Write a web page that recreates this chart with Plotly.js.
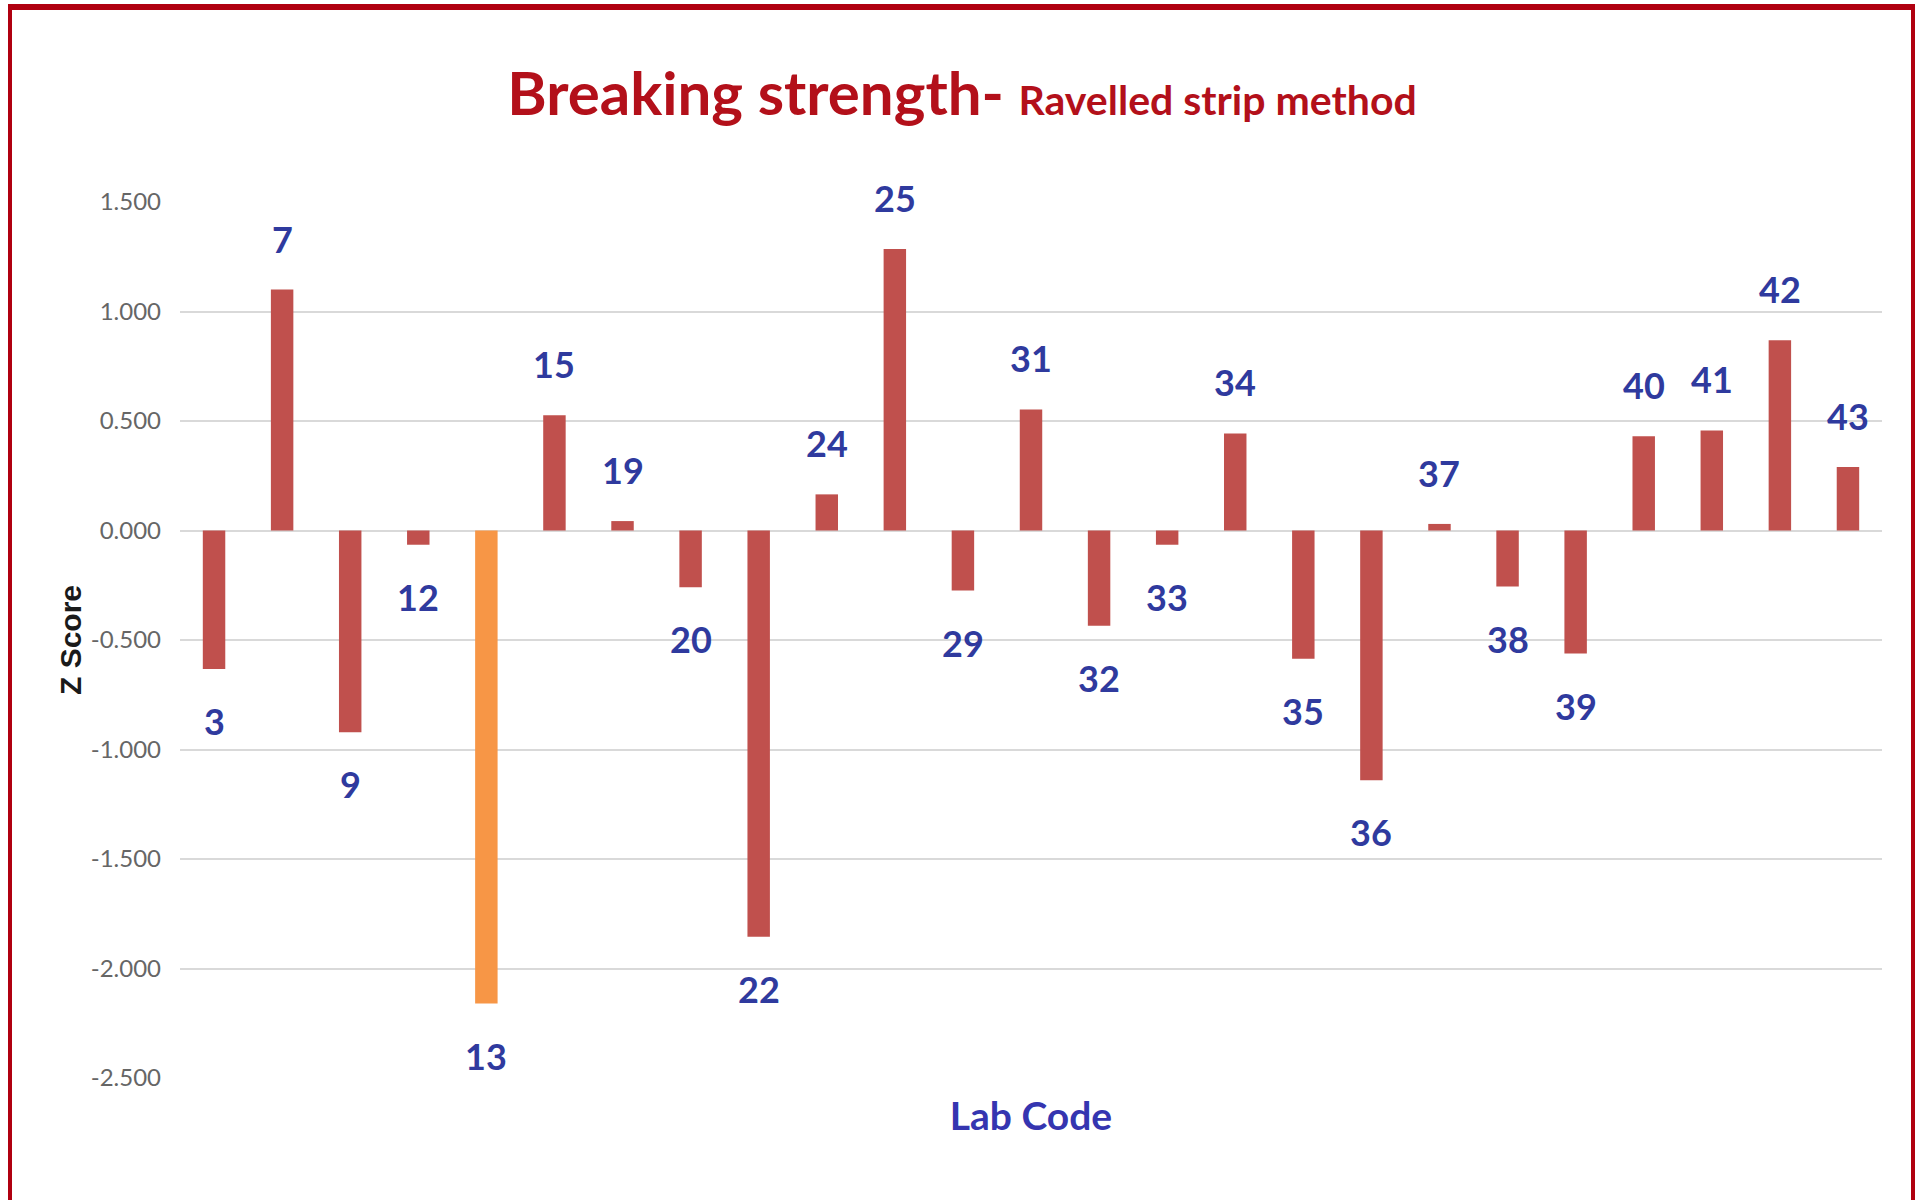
<!DOCTYPE html>
<html>
<head>
<meta charset="utf-8">
<script src="https://cdn.plot.ly/plotly-3.0.1.min.js"></script>
<style>
  html, body { margin: 0; padding: 0; background: #ffffff; }
  #wrap { position: relative; width: 1918px; height: 1200px; overflow: hidden; }
  #chart { position: absolute; left: 0; top: 0; width: 1918px; height: 1200px; }
  #frame { position: absolute; left: 8px; top: 4px; width: 1899px; height: 1192px;
           border: 4px solid #B00010; border-top-width: 6px; border-bottom: 2px solid #F2C4C8;
           pointer-events: none; }
</style>
</head>
<body>
<div id="wrap">
  <div id="chart"></div>
  <div id="frame"></div>
</div>
<script>
// ---- data ----
const labCodes = ['3','7','9','12','13','15','19','20','22','24','25','29','31','32','33','34','35','36','37','38','39','40','41','42','43'];
const zScores  = [-0.632, 1.100, -0.921, -0.065, -2.160, 0.526, 0.043, -0.259, -1.855, 0.165, 1.285, -0.274, 0.553, -0.435, -0.065, 0.443, -0.586, -1.140, 0.030, -0.256, -0.562, 0.430, 0.457, 0.869, 0.290];
const highlightedCodes = ['13'];
const yTickValues = [1.5, 1.0, 0.5, 0.0, -0.5, -1.0, -1.5, -2.0, -2.5];
const yTickLabels = ['1.500', '1.000', '0.500', '0.000', '-0.500', '-1.000', '-1.500', '-2.000', '-2.500'];
const chartTitleMain = 'Breaking strength-';
const chartTitleSub = 'Ravelled strip method';
const xAxisTitle = 'Lab Code';
const yAxisTitle = 'Z Score';

// ---- styles ----
const FONT = 'Lato, "Open Sans", sans-serif';
const barColor = '#C0504D';
const highlightColor = '#F79646';
const labelColor = '#2F3A9E';

const barColors = labCodes.map(c => highlightedCodes.includes(c) ? highlightColor : barColor);

const trace = {
  type: 'bar',
  x: labCodes,
  y: zScores,
  marker: { color: barColors, line: { width: 0 } },
  hoverinfo: 'x+y'
};

// data labels (lab codes) placed beyond the end of each bar; x given as category index
const annotations = labCodes.map((c, i) => ({
  x: i,
  y: zScores[i],
  xref: 'x',
  yref: 'y',
  text: '<b>' + c + '</b>',
  showarrow: false,
  xanchor: 'center',
  yanchor: 'middle',
  yshift: zScores[i] >= 0 ? 51 : -52,
  font: { family: FONT, size: 36, color: labelColor }
}));

const layout = {
  width: 1918,
  height: 1200,
  paper_bgcolor: '#ffffff',
  plot_bgcolor: '#ffffff',
  margin: { l: 180, r: 36, t: 202, b: 122, pad: 0 },
  showlegend: false,
  bargap: 0.67,
  title: {
    text: '<b>' + chartTitleMain + ' <span style="font-size:41px">' + chartTitleSub + '</span></b>',
    font: { family: FONT, size: 60, color: '#B3101A' },
    x: 962 / 1918,
    xanchor: 'center',
    xref: 'container',
    y: 1 - 94 / 1200,
    yref: 'container',
    yanchor: 'middle'
  },
  xaxis: {
    type: 'category',
    range: [-0.5, labCodes.length - 0.5],
    autorange: false,
    showticklabels: false,
    showgrid: false,
    zeroline: false,
    showline: false,
    ticks: '',
    title: {
      text: '<b>' + xAxisTitle + '</b>',
      font: { family: FONT, size: 39, color: '#3535B0' },
      standoff: 24
    }
  },
  yaxis: {
    range: [-2.5, 1.5],
    autorange: false,
    tickvals: yTickValues,
    ticktext: yTickLabels,
    showgrid: true,
    gridcolor: '#D9D9D9',
    gridwidth: 2,
    zeroline: true,
    zerolinecolor: '#D9D9D9',
    zerolinewidth: 2,
    showline: false,
    ticks: '',
    ticklabelstandoff: 18,
    tickfont: { family: FONT, size: 24, color: '#666666' },
    title: {
      text: '<b>' + yAxisTitle + '</b>',
      font: { family: '"Liberation Sans", Arial, sans-serif', size: 30, color: '#1a1a1a' },
      standoff: 0
    }
  },
  annotations: annotations
};

Plotly.newPlot('chart', [trace], layout, { displayModeBar: false, staticPlot: true });
</script>
</body>
</html>
